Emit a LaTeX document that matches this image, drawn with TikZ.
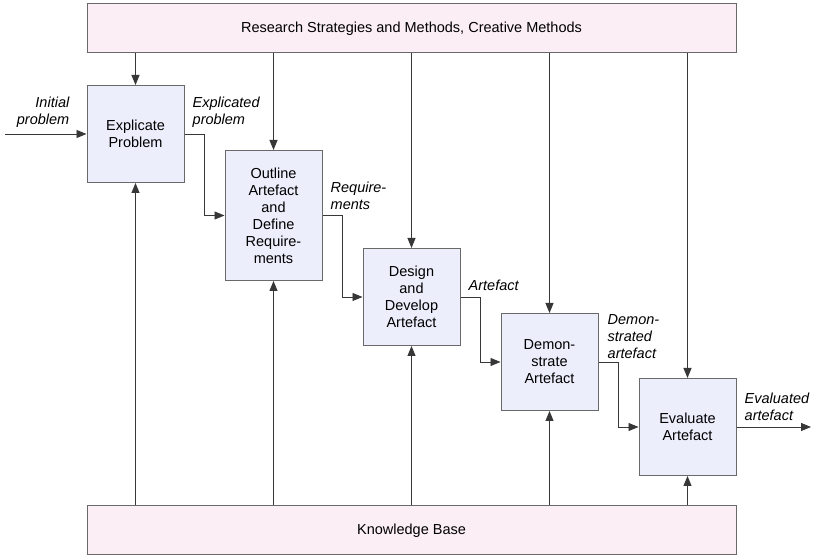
\documentclass[tikz,border=0pt]{standalone}
\usepackage{fontspec}
\setmainfont{Liberation Sans}
\usetikzlibrary{positioning,arrows.meta}

\definecolor{boxfill}{RGB}{236,238,251}
\definecolor{barfill}{RGB}{251,238,245}
\definecolor{edge}{RGB}{105,105,105}
\definecolor{wire}{RGB}{55,55,55}
\newcommand{\diagfont}{\fontsize{14.5}{17}\selectfont}

\tikzset{
  stage/.style={draw=edge, line width=1pt, fill=boxfill, minimum width=97pt, minimum height=97pt, align=center, inner sep=2pt, font=\diagfont},
  bar/.style={draw=edge, line width=1pt, fill=barfill, minimum width=649pt, minimum height=49pt, font=\diagfont},
  flow/.style={draw=wire, line width=0.9pt, -{Triangle[length=10pt,width=8pt]}},
  lab/.style={font=\diagfont\itshape, inner sep=0pt, align=left},
}

\begin{document}
\begin{tikzpicture}[x=1pt,y=1pt]
\useasboundingbox (0,0) rectangle (813,556);
% bars
\node[bar] (top) at (411.5,527.5) {Research Strategies and Methods, Creative Methods};
\node[bar] (base) at (411.5,25.5) {Knowledge Base};
% stages
\node[stage] (explicate) at (135.5,422) {Explicate\\Problem};
\node[stage, minimum height=130pt, below right=-33pt and 40pt of explicate] (outline) {Outline\\Artefact\\and\\Define\\Require-\\ments};
\node[stage, below right=-33pt and 40pt of outline] (design) {Design\\and\\Develop\\Artefact};
\node[stage, below right=-33pt and 40pt of design] (demo) {Demon-\\strate\\Artefact};
\node[stage, below right=-33pt and 40pt of demo] (evaluate) {Evaluate\\Artefact};
% methods and knowledge
\foreach \s in {explicate,outline,design,demo,evaluate}
\draw[flow] (top.south -| \s.north) -- (\s.north);
\foreach \s in {explicate,outline,design,demo,evaluate}
\draw[flow] (base.north -| \s.south) -- (\s.south);
% main flow
\coordinate (start) at (5,422);
\coordinate (finish) at (811,0);
\draw[flow] (start) -- (explicate.west);
\foreach \a/\b in {explicate/outline,outline/design,design/demo,demo/evaluate}
\draw[flow] (\a.east) -- ++(20,0) |- (\b.west);
\draw[flow] (evaluate.east) -- (evaluate.east -| finish);
% labels
\node[lab, align=right, above left=6pt and 17pt of explicate.west] (initlab) {Initial\\problem};
\node[lab, above right=6pt and 8pt of explicate.east] (explab) {Explicated\\problem};
\node[lab, above right=6pt and 8pt of outline.east] (reqlab) {Require-\\ments};
\node[lab, above right=6pt and 8pt of design.east] (artlab) {Artefact};
\node[lab, above right=3pt and 9pt of demo.east] (demlab) {Demon-\\strated\\artefact};
\node[lab, above right=6pt and 8pt of evaluate.east] (evallab) {Evaluated\\artefact};
\end{tikzpicture}
\end{document}
